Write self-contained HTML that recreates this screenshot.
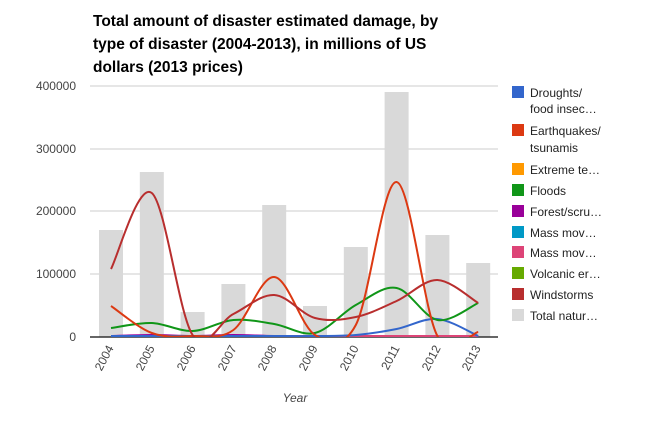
<!DOCTYPE html>
<html><head><meta charset="utf-8"><style>
body{margin:0;background:#fff;width:649px;height:420px;overflow:hidden;font-family:"Liberation Sans",Arial,sans-serif}
</style></head><body>
<svg width="649" height="420" xmlns="http://www.w3.org/2000/svg" font-family="Liberation Sans, Arial, sans-serif">
<defs><clipPath id="c"><rect x="85" y="60" width="420" height="277"/></clipPath></defs>
<g font-weight="bold" font-size="15.5" fill="#000">
<text x="93" y="26">Total amount of disaster estimated damage, by</text>
<text x="93" y="49">type of disaster (2004-2013), in millions of US</text>
<text x="93" y="72">dollars (2013 prices)</text>
</g>
<g stroke="#ccc" stroke-width="1">
<line x1="90" x2="498" y1="86" y2="86"/><line x1="90" x2="498" y1="149" y2="149"/>
<line x1="90" x2="498" y1="211" y2="211"/><line x1="90" x2="498" y1="274" y2="274"/>
</g>
<g font-size="12" fill="#444" text-anchor="end">
<text x="76" y="90">400000</text><text x="76" y="153">300000</text><text x="76" y="215">200000</text><text x="76" y="278">100000</text><text x="76" y="341">0</text>
</g>
<g id="bars" fill="#d9d9d9"></g>
<line x1="90" x2="498" y1="337" y2="337" stroke="#333" stroke-width="1.5"/>
<g id="lines" fill="none" stroke-width="2" clip-path="url(#c)"></g>
<text x="295" y="402" font-size="12" font-style="italic" fill="#444" text-anchor="middle">Year</text>
<g font-size="12" fill="#222">
<rect x="512" y="86" width="12" height="12" fill="#3366cc"/><text x="530" y="97">Droughts/</text><text x="530" y="113">food insec…</text>
<rect x="512" y="124" width="12" height="12" fill="#dc3912"/><text x="530" y="135">Earthquakes/</text><text x="530" y="152">tsunamis</text>
<rect x="512" y="163" width="12" height="12" fill="#ff9900"/><text x="530" y="174">Extreme te…</text>
<rect x="512" y="184" width="12" height="12" fill="#109618"/><text x="530" y="195">Floods</text>
<rect x="512" y="205" width="12" height="12" fill="#990099"/><text x="530" y="216">Forest/scru…</text>
<rect x="512" y="226" width="12" height="12" fill="#0099c6"/><text x="530" y="237">Mass mov…</text>
<rect x="512" y="246" width="12" height="12" fill="#dd4477"/><text x="530" y="257">Mass mov…</text>
<rect x="512" y="267" width="12" height="12" fill="#66aa00"/><text x="530" y="278">Volcanic er…</text>
<rect x="512" y="288" width="12" height="12" fill="#b82e2e"/><text x="530" y="299">Windstorms</text>
<rect x="512" y="309" width="12" height="12" fill="#d9d9d9"/><text x="530" y="320">Total natur…</text>
</g>
<g font-size="12" fill="#444">
<text transform="translate(114,348) rotate(-62)" text-anchor="end">2004</text>
<text transform="translate(155,348) rotate(-62)" text-anchor="end">2005</text>
<text transform="translate(196,348) rotate(-62)" text-anchor="end">2006</text>
<text transform="translate(237,348) rotate(-62)" text-anchor="end">2007</text>
<text transform="translate(277,348) rotate(-62)" text-anchor="end">2008</text>
<text transform="translate(318,348) rotate(-62)" text-anchor="end">2009</text>
<text transform="translate(359,348) rotate(-62)" text-anchor="end">2010</text>
<text transform="translate(400,348) rotate(-62)" text-anchor="end">2011</text>
<text transform="translate(441,348) rotate(-62)" text-anchor="end">2012</text>
<text transform="translate(481,348) rotate(-62)" text-anchor="end">2013</text>
</g>
</svg>
<script>
var ns="http://www.w3.org/2000/svg";
var cx=[];for(var i=0;i<10;i++)cx.push(111+i*40.8);
var tops=[230,172,312,284,205,306,247,92,235,263];
var b=document.getElementById("bars");
tops.forEach(function(t,i){var r=document.createElementNS(ns,"rect");r.setAttribute("x",cx[i]-12);r.setAttribute("width",24);r.setAttribute("y",t);r.setAttribute("height",337-t);b.appendChild(r);});
function path(ys){var p=ys.map(function(y,i){return[cx[i],y]});var d="M"+p[0][0]+","+p[0][1];
for(var i=0;i<p.length-1;i++){var p0=p[Math.max(i-1,0)],p1=p[i],p2=p[i+1],p3=p[Math.min(i+2,p.length-1)];
d+=" C"+(p1[0]+(p2[0]-p0[0])/6)+","+(p1[1]+(p2[1]-p0[1])/6)+" "+(p2[0]-(p3[0]-p1[0])/6)+","+(p2[1]-(p3[1]-p1[1])/6)+" "+p2[0]+","+p2[1];}return d;}
var S=[["#990099",[336,335,336,335,336,336,336,336,336,336]],
["#dd4477",[336,336,336,336,336,336,336,336,336,336]],
["#3366cc",[336,336,336,336,336,336,335,329,319,336]],
["#109618",[328,323,331,320,324,333,305,288,320,303]],
["#dc3912",[306,333,336,330,277,335,325,182,336,332]],
["#b82e2e",[269,193,335,314,295,318,317,301,280,303]]];
var g=document.getElementById("lines");
S.forEach(function(s){var e=document.createElementNS(ns,"path");e.setAttribute("d",path(s[1]));e.setAttribute("stroke",s[0]);g.appendChild(e);});
</script>
</body></html>
